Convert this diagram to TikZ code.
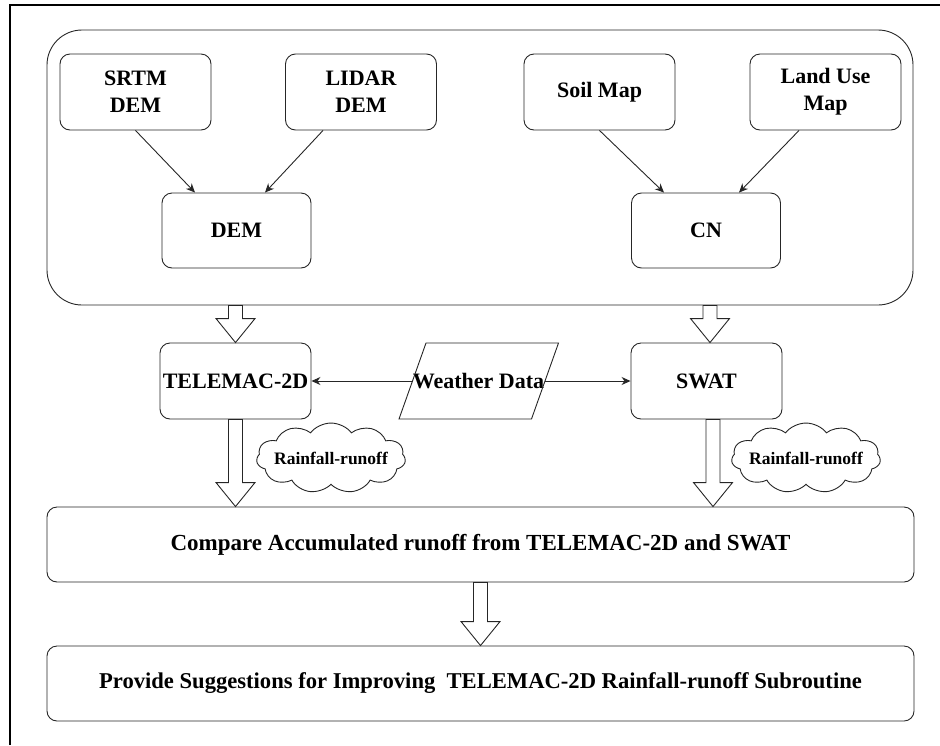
\documentclass[tikz,border=0pt]{standalone}
\usepackage{fontspec}
\setmainfont{Liberation Serif}
\usetikzlibrary{arrows.meta,calc,shapes.symbols}
\tikzset{
  lin/.style={draw=black!85, line width=0.9pt},
  box/.style={lin, rounded corners=10pt, minimum width=151pt, minimum height=76pt,
    align=center, inner sep=0pt, font=\bfseries\fontsize{22}{27}\selectfont},
  wide/.style={box, minimum width=867pt, minimum height=75pt},
  puff/.style={lin, cloud, cloud puffs=11, cloud puff arc=120, aspect=2.3,
    minimum width=141pt, minimum height=62pt, inner sep=0pt, xscale=0.9, yscale=0.75,
    font=\bfseries\fontsize{17.5}{20}\selectfont},
  pufftext/.style={inner sep=0pt, font=\bfseries\fontsize{17.5}{20}\selectfont},
  conn/.style={lin, -{Stealth[length=9pt,width=8pt]}},
  fat/.style={lin, line join=miter}
}
\newcommand\fatarrow[2]{%
  \draw[fat] let \p1=(#1), \p2=(#2) in
   (\x1-7pt,\y1) -- (\x1-7pt,\y2+24pt) -- (\x1-19.5pt,\y2+24pt) -- (\x1,\y2)
   -- (\x1+19.5pt,\y2+24pt) -- (\x1+7pt,\y2+24pt) -- (\x1+7pt,\y1) -- cycle;}
\begin{document}
\begin{tikzpicture}[x=1pt,y=-1pt]
\useasboundingbox (0,0) rectangle (940,745);
% outer frame (top and left edges only)
\draw[black, line width=1.3pt] (10,745) -- (10,5) -- (940,5);
% container
\node[lin, rounded corners=35pt, minimum width=866pt, minimum height=275pt, inner sep=0pt]
  (container) at (480,167.5) {};
% input boxes
\node[box] (srtm) at (135.5,92) {SRTM\\DEM};
\node[box] (lidar) at (361,92) {LIDAR\\DEM};
\node[box] (soil) at (599.5,92) {Soil Map};
\node[box] (land) at (825.5,92) {Land Use\\Map};
\node[box, minimum width=149pt, minimum height=75pt] (dem) at (236.5,230.5) {DEM};
\node[box, minimum width=149pt, minimum height=75pt] (cn) at (706,230.5) {CN};
\draw[conn] (srtm.south) -- ($(dem.north)+(-41.5,0)$);
\draw[conn] ($(lidar.south)+(-38,0)$) -- ($(dem.north)+(28.5,0)$);
\draw[conn] (soil.south) -- ($(cn.north)+(-42,0)$);
\draw[conn] ($(land.south)+(-26.5,0)$) -- ($(cn.north)+(33,0)$);
% models
\node[box] (tele) at (235.5,381) {TELEMAC-2D};
\node[box] (swat) at (706.5,381) {SWAT};
% weather data parallelogram
\node[font=\bfseries\fontsize{22}{27}\selectfont, inner sep=0pt] (wd) at (478.5,381) {Weather Data};
\draw[lin, line join=miter] (426,343) -- (558.5,343) -- (531.5,419) -- (399,419) -- cycle;
\coordinate (wdL) at (412.5,381);
\coordinate (wdR) at (545,381);
\draw[conn] (wdL) -- (tele.east);
\draw[conn] (wdR) -- (swat.west);
% clouds
\node[puff] (c1) at (331,458) {\phantom{Rainfall-runoff}};
\node[pufftext] (c1t) at (c1.center) {Rainfall-runoff};
\node[puff] (c2) at (806,458) {\phantom{Rainfall-runoff}};
\node[pufftext] (c2t) at (c2.center) {Rainfall-runoff};
% compare and provide
\node[wide] (cmp) at (480.5,544.5) {\fontsize{23}{27}\selectfont Compare Accumulated runoff from TELEMAC-2D and SWAT};
\node[wide] (prov) at (480.5,683.5) {\fontsize{22.6}{27}\selectfont Provide Suggestions for Improving\ \ TELEMAC-2D Rainfall-runoff Subroutine};
% block arrows
\fatarrow{container.south -| tele.north}{tele.north}
\fatarrow{$(container.south -| swat.north)+(3.5,0)$}{$(swat.north)+(3.5,0)$}
\fatarrow{tele.south}{cmp.north -| tele.south}
\fatarrow{$(swat.south)+(6.5,0)$}{$(cmp.north -| swat.south)+(6.5,0)$}
\fatarrow{cmp.south}{prov.north}
\end{tikzpicture}
\end{document}
